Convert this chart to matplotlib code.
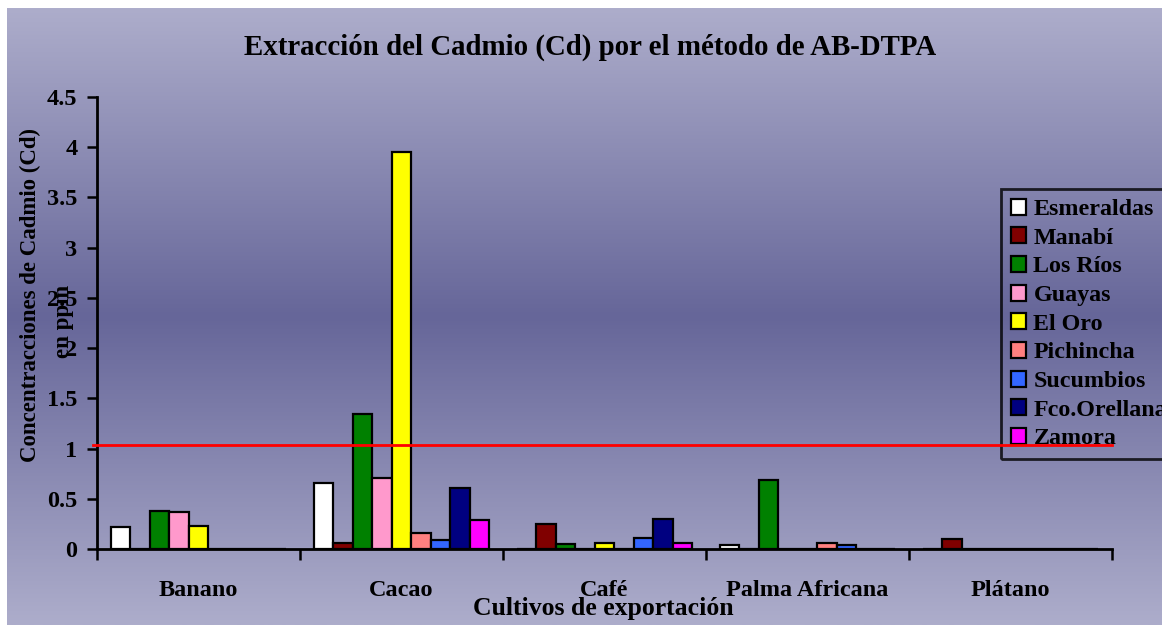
import numpy as np
import matplotlib
matplotlib.use('Agg')
import matplotlib.pyplot as plt
from matplotlib.colors import LinearSegmentedColormap

plt.rcParams['font.family'] = ['Liberation Serif', 'DejaVu Serif']
plt.rcParams['font.weight'] = 'bold'

cultivos = ['Banano', 'Cacao', 'Café', 'Palma Africana', 'Plátano']
provincias = ['Esmeraldas', 'Manabí', 'Los Ríos', 'Guayas', 'El Oro',
              'Pichincha', 'Sucumbios', 'Fco.Orellana', 'Zamora']
colores = ['#FFFFFF', '#800000', '#008000', '#FF99CC', '#FFFF00',
           '#FF8080', '#3366FF', '#000080', '#FF00FF']

# valores por provincia (Banano, Cacao, Café, Palma Africana, Plátano)
esmeraldas = [0.22, 0.66, 0.0, 0.04, 0.0]
manabi = [0.0, 0.06, 0.25, 0.0, 0.10]
los_rios = [0.38, 1.34, 0.05, 0.69, 0.0]
guayas = [0.37, 0.71, 0.0, 0.0, 0.0]
el_oro = [0.23, 3.95, 0.06, 0.0, 0.0]
pichincha = [0.0, 0.16, 0.0, 0.06, 0.0]
sucumbios = [0.0, 0.09, 0.11, 0.04, 0.0]
orellana = [0.0, 0.61, 0.30, 0.0, 0.0]
zamora = [0.0, 0.29, 0.06, 0.0, 0.0]
series = [esmeraldas, manabi, los_rios, guayas, el_oro,
          pichincha, sucumbios, orellana, zamora]

limite = 1.04

fig = plt.figure(figsize=(11.62, 6.25), dpi=100)

# fondo degradado (claro arriba y abajo, oscuro al centro)
bg = fig.add_axes([7 / 1162, 0, 1 - 7 / 1162, 1 - 8 / 625], zorder=-1)
cmap = LinearSegmentedColormap.from_list('fondo', ['#ADADCB', '#666699', '#ADADCB'])
grad = np.linspace(0, 1, 256).reshape(-1, 1)
bg.imshow(grad, aspect='auto', cmap=cmap, extent=[0, 1, 0, 1])
bg.set_axis_off()

ax = fig.add_axes([97 / 1162, 1 - 549 / 625, (1112 - 97) / 1162, (549 - 97) / 625])
ax.patch.set_alpha(0)

x = np.arange(len(cultivos))
w = 0.096
for i, (nombre, vals) in enumerate(zip(provincias, series)):
    ax.bar(x + (i - 4) * w, vals, w, color=colores[i], edgecolor='black',
           linewidth=1.6, label=nombre)

ax.axhline(limite, xmin=-0.004, xmax=1.0, color='red', lw=2, clip_on=False, zorder=10)

ax.set_xlim(-0.5, 4.5)
ax.set_ylim(0, 4.5)
ax.set_yticks(np.arange(0, 4.6, 0.5))
ax.set_yticklabels(['0', '0.5', '1', '1.5', '2', '2.5', '3', '3.5', '4', '4.5'])
ax.set_xticks(x)
ax.set_xticklabels(cultivos)
ax.set_xticks(np.arange(-0.5, 4.6, 1), minor=True)
ax.tick_params(axis='x', which='major', length=0, labelsize=17.5, pad=22)
ax.tick_params(axis='x', which='minor', length=8, width=1.8, direction='out')
ax.tick_params(axis='y', length=7, width=1.8, direction='out', labelsize=17.5, pad=7)
for s in ['top', 'right']:
    ax.spines[s].set_visible(False)
for s in ['left', 'bottom']:
    ax.spines[s].set_linewidth(2)

fig.text(590 / 1162, 1 - 47 / 625, 'Extracción del Cadmio (Cd) por el método de AB-DTPA',
         ha='center', va='center', fontsize=20.8, fontweight='bold')
fig.text(603 / 1162, 1 - 609 / 625, 'Cultivos de exportación',
         ha='center', va='center', fontsize=18.5, fontweight='bold')
fig.text(30 / 1162, 1 - 295 / 625, 'Concentracciones de Cadmio (Cd)',
         ha='center', va='center', rotation=90, fontsize=16.5, fontweight='bold')
fig.text(64 / 1162, 1 - 321 / 625, 'en ppm',
         ha='center', va='center', rotation=90, fontsize=16.5, fontweight='bold')

leg = ax.legend(loc='upper left', bbox_to_anchor=(1001 / 1162, 1 - 189 / 625),
                bbox_transform=fig.transFigure, frameon=True, fancybox=False,
                fontsize=17.3, handlelength=0.65, handleheight=0.65, handletextpad=0.3,
                labelspacing=0.3, borderpad=0.4, borderaxespad=0)
leg.get_frame().set_facecolor('none')
leg.get_frame().set_edgecolor('black')
leg.get_frame().set_linewidth(2)

fig.savefig('out.png', dpi=100)
